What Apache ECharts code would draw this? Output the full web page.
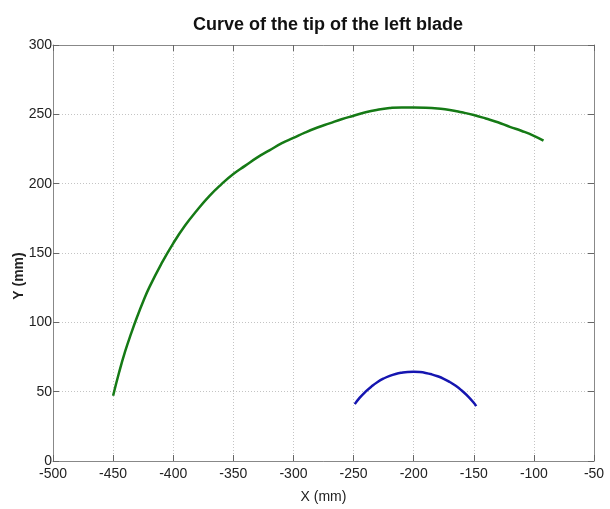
<!DOCTYPE html>
<html>
<head>
<meta charset="utf-8">
<script src="https://cdn.jsdelivr.net/npm/echarts@6/dist/echarts.min.js"></script>
<style>
  html, body { margin: 0; padding: 0; background: #fff; }
  #chart { width: 610px; height: 509px; }
</style>
</head>
<body>
<div id="chart"></div>
<script>
// tip of the left blade (green) and inner curve (blue)
const greenX = [-450, -445, -440, -435, -430, -425, -420, -410, -400, -390, -380, -370, -360, -350, -340, -330, -320, -310, -300, -290, -280, -270, -260, -250, -240, -230, -220, -210, -200, -190, -180, -170, -160, -150, -140, -130, -120, -110, -100, -92];
const greenY = [47, 64, 79, 92, 104, 115, 125, 142, 157, 170, 181, 191, 199.5, 207, 213, 219, 224, 229, 233, 237, 240.5, 243.5, 246.5, 249, 251.5, 253.3, 254.5, 255, 255, 254.8, 254.2, 253.2, 251.5, 249.5, 247, 244.3, 241, 238, 234.5, 231];
const blueX = [-249, -245, -240, -235, -230, -225, -220, -215, -210, -205, -200, -195, -190, -185, -180, -175, -170, -165, -160, -155, -150, -148];
const blueY = [41, 45.5, 50, 53.8, 57, 59.5, 61.4, 62.8, 63.7, 64.2, 64.3, 64.1, 63.5, 62.5, 61.1, 59.3, 57, 54.2, 50.8, 46.8, 42, 39.5];

const titleText = "Curve of the tip of the left blade";
const xName = "X (mm)";
const yName = "Y (mm)";

const font = '"Liberation Sans", Arial, sans-serif';

function pairs(xs, ys) {
  return xs.map((x, i) => [x, ys[i]]);
}

const chart = echarts.init(document.getElementById("chart"));

const boxAxis = {
  axisLine: { show: true, onZero: false, lineStyle: { color: "#888", width: 1 } },
  axisTick: { show: true, inside: true, length: 6, lineStyle: { color: "#666" } },
  axisLabel: { show: false },
  splitLine: { show: false }
};

const option = {
  animation: false,
  backgroundColor: "#fff",
  title: {
    text: titleText,
    left: 323,
    textAlign: "center",
    top: 11,
    textStyle: { fontFamily: font, fontSize: 18, fontWeight: "bold", color: "#111" }
  },
  grid: { left: 53, right: 16, top: 45, bottom: 41 },
  xAxis: [
    {
      type: "value",
      min: -500,
      max: -50,
      interval: 50,
      position: "bottom",
      name: xName,
      nameLocation: "middle",
      nameGap: 29,
      nameTextStyle: { fontFamily: font, fontSize: 14, color: "#222" },
      axisLine: { show: true, onZero: false, lineStyle: { color: "#888", width: 1 } },
      axisTick: { show: true, inside: true, length: 6, lineStyle: { color: "#666" } },
      axisLabel: { fontFamily: font, fontSize: 14, color: "#222", margin: 6 },
      splitLine: { show: true, lineStyle: { type: [1, 2], color: "#c4c4c4" } }
    },
    Object.assign({ type: "value", min: -500, max: -50, interval: 50, position: "top" }, boxAxis)
  ],
  yAxis: [
    {
      type: "value",
      min: 0,
      max: 300,
      interval: 50,
      position: "left",
      axisLine: { show: true, onZero: false, lineStyle: { color: "#888", width: 1 } },
      axisTick: { show: true, inside: true, length: 6, lineStyle: { color: "#666" } },
      axisLabel: { fontFamily: font, fontSize: 14, color: "#222", margin: 1 },
      splitLine: { show: true, lineStyle: { type: [1, 2], color: "#c4c4c4" } }
    },
    Object.assign({ type: "value", min: 0, max: 300, interval: 50, position: "right" }, boxAxis)
  ],
  graphic: [
    {
      type: "text",
      x: 19,
      y: 276,
      rotation: Math.PI / 2,
      style: {
        text: yName,
        fontFamily: font,
        fontSize: 14,
        fontWeight: "bold",
        fill: "#222",
        textAlign: "center",
        textVerticalAlign: "middle"
      }
    }
  ],
  series: [
    {
      name: "tip",
      type: "line",
      smooth: true,
      showSymbol: false,
      data: pairs(greenX, greenY),
      lineStyle: { color: "#157a15", width: 2.5 }
    },
    {
      name: "inner",
      type: "line",
      smooth: true,
      showSymbol: false,
      data: pairs(blueX, blueY),
      lineStyle: { color: "#1515b0", width: 2.5 }
    }
  ]
};

chart.setOption(option);
</script>
</body>
</html>
